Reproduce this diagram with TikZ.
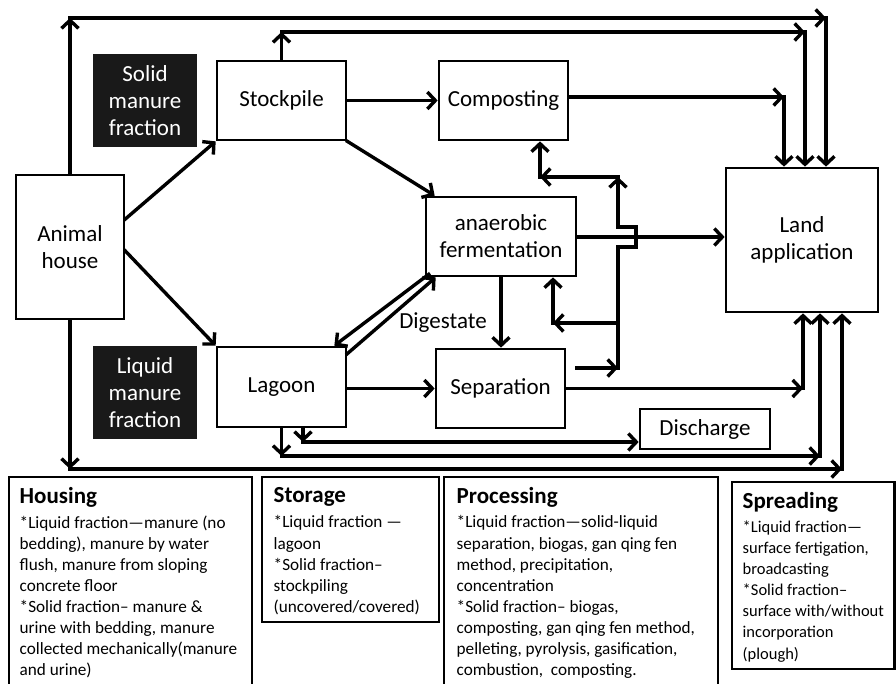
\documentclass[tikz,border=0pt]{standalone}
\usepackage{fontspec}
\setmainfont{Carlito}
\usetikzlibrary{arrows.meta}
\begin{document}
\begin{tikzpicture}[x=1pt,y=-1pt,
  line width=3.4pt,
  >={Straight Barb[length=8pt,width=17pt]},
  conn/.style={line cap=rect},
  box/.style={draw, line width=2.7pt, inner sep=0pt, align=center, font=\fontsize{23}{27}\selectfont},
  blackbox/.style={fill=black!90, text=white, inner sep=0pt, align=center, minimum width=104pt, minimum height=93pt, font=\fontsize{23}{27}\selectfont},
  infobox/.style={draw, line width=2.8pt},
  head/.style={anchor=west, inner sep=0pt, font=\fontsize{23}{26}\selectfont\bfseries},
  body/.style={anchor=north west, inner sep=0pt, align=left, font=\fontsize{17.2}{21.1}\selectfont}
]
\useasboundingbox (0,0) rectangle (896,684);

% nodes
\node[blackbox] (sol) at (145,100.5) {Solid\\manure\\fraction};
\node[blackbox] (liq) at (145,392.5) {Liquid\\manure\\fraction};
\node[box, minimum width=108pt, minimum height=144pt] (ah) at (70,247) {Animal\\house};
\node[box, minimum width=129pt, minimum height=79pt] (sp) at (281.5,100.5) {Stockpile};
\node[box, minimum width=129pt, minimum height=79pt] (co) at (503.5,100.5) {Composting};
\node[box, minimum width=150pt, minimum height=79pt] (af) at (501,236.5) {anaerobic\\fermentation};
\node[box, minimum width=129pt, minimum height=80pt] (la) at (281.5,387) {Lagoon};
\node[box, minimum width=129pt, minimum height=79pt] (se) at (500.5,388.5) {Separation};
\node[box, minimum width=152pt, minimum height=144pt] (land) at (802,240) {Land\\application};
\node[box, minimum width=130pt, minimum height=40pt] (dis) at (705,429) {Discharge};
\node[inner sep=0pt, font=\fontsize{23}{27}\selectfont] (dig) at (443,323) {Digestate};

% coordinates
\coordinate (a1) at (70,18);
\coordinate (a2) at (826,18);
\coordinate (b1) at (281.5,32);
\coordinate (b2) at (805,32);
\coordinate (c1) at (784,97);
\coordinate (d1) at (803,388.5);
\coordinate (l1) at (281.5,456);
\coordinate (l2) at (820,456);
\coordinate (m1) at (303,442);
\coordinate (h1) at (70,469);
\coordinate (h2) at (842,469);
\coordinate (v0) at (577,368);
\coordinate (v1) at (618,368);
\coordinate (v2) at (618,323);
\coordinate (v3) at (553,323);
\coordinate (vb) at (618,247);
\coordinate (vc) at (636,247);
\coordinate (vd) at (636,227);
\coordinate (ve) at (618,227);
\coordinate (vt) at (618,177);
\coordinate (vl) at (540,177);

% top routes
\draw[conn,->] (ah.north) -- (a1);
\draw[conn,->] (a1) -- (a2);
\draw[conn,->] (a2) -- (a2 |- land.north);
\draw[conn,->] (sp.north) -- (b1);
\draw[conn,->] (b1) -- (b2);
\draw[conn,->] (b2) -- (b2 |- land.north);
\draw[conn,->] (co.east |- c1) -- (c1);
\draw[conn,->] (c1) -- (c1 |- land.north);
\draw[conn,->] (sp.east) -- (co.west);

% from animal house
\draw[conn,->] ([yshift=28pt]ah.east) -- (sp.south west);
\draw[conn,->] ([yshift=-4pt]ah.east) -- (la.north west);
\draw[conn,->] (sp.south east) -- ([xshift=10pt]af.north west);

% digestate exchange
\draw[conn,->] ([xshift=4pt,yshift=3pt]af.south west) -- ([xshift=-13pt]la.north east);
\draw[conn,->] ([yshift=-8pt]la.north east) -- ([xshift=11pt]af.south west);

\draw[conn,->] (af.south) -- (af.south |- se.north);
\draw[conn,->] (la.east |- se.west) -- (se.west);
\draw[conn,->] (se.east) -- (d1);
\draw[conn,->] (d1) -- (d1 |- land.south);

% lagoon bottom
\draw[conn,->] (la.south -| m1) -- (m1);
\draw[conn,->] (m1) -- (m1 -| dis.west);
\draw[conn,->] (la.south) -- (l1);
\draw[conn,->] (l1) -- (l2);
\draw[conn,->] (l2) -- (l2 |- land.south);

% animal house bottom
\draw[conn,->] (ah.south) -- (h1);
\draw[conn,->] (h1) -- (h2);
\draw[conn,->] (h2) -- (h2 |- land.south);

% anaerobic to land
\draw[conn,->] (af.east |- 0,237) -- (land.west |- 0,237);

% recirculation line with hop
\draw[conn,->] (v0) -- (v1);
\draw[conn] (v1) -- (vb) -- (vc) -- (vd) -- (ve);
\draw[conn,->] (ve) -- (vt);
\draw[conn,->] (vt) -- (vl);
\draw[conn,->] (vl) -- (vl |- co.south);
\draw[conn,->] (v2) -- (v3);
\draw[conn,->] (v3) -- (v3 |- af.south);

% bottom info boxes
\draw[infobox] (9,700) -- (9,477) -- (252,477) -- (252,700);
\draw[infobox] (262,477) rectangle (439,622);
\draw[infobox] (444,700) -- (444,477) -- (718,477) -- (718,700);
\draw[infobox] (732,482) rectangle (894.5,669);

\node[head] (hh) at (18,497) {Housing};
\node[body] (hb) at (18,514) {*Liquid fraction—manure (no\\bedding), manure by water\\flush, manure from sloping\\concrete floor\\*Solid fraction– manure \&\\urine with bedding, manure\\collected mechanically(manure\\and urine)};
\node[head] (sh) at (272,497) {Storage};
\node[body] (sb) at (272,514) {*Liquid fraction —\\lagoon\\*Solid fraction–\\stockpiling\\(uncovered/covered)};
\node[head] (ph) at (455,497) {Processing};
\node[body] (pb) at (455,514) {*Liquid fraction—solid-liquid\\separation, biogas, gan qing fen\\method, precipitation,\\concentration\\*Solid fraction– biogas,\\composting, gan qing fen method,\\pelleting, pyrolysis, gasification,\\combustion,\ \ composting.};
\node[head] (rh) at (741,502) {Spreading};
\node[body, font=\fontsize{16.5}{21.1}\selectfont] (rb) at (741,519) {*Liquid fraction—\\surface fertigation,\\broadcasting\\*Solid fraction–\\surface with/without\\incorporation\\(plough)};
\end{tikzpicture}
\end{document}
